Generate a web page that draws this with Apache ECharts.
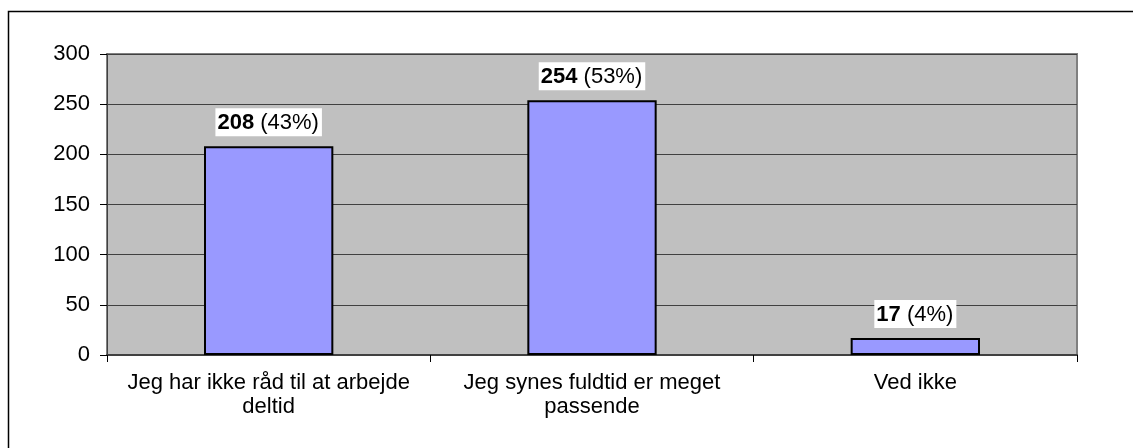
<!DOCTYPE html>
<html>
<head>
<meta charset="utf-8">
<script src="https://cdn.jsdelivr.net/npm/echarts@6/dist/echarts.min.js"></script>
<style>
  html, body { margin: 0; padding: 0; background: #fff; }
  #chart { width: 1133px; height: 448px; }
</style>
</head>
<body>
<div id="chart"></div>
<script>
const categories = ['Jeg har ikke råd til at arbejde\ndeltid', 'Jeg synes fuldtid er meget\npassende', 'Ved ikke']
const counts = [208, 254, 17]
const percents = ['43%', '53%', '4%']
const yTicks = [0, 50, 100, 150, 200, 250, 300]

const chart = echarts.init(document.getElementById('chart'))

const font = 'Arial, "Liberation Sans", sans-serif'

const option = {
  animation: false,
  textStyle: { fontFamily: font },
  graphic: [
    {
      type: 'rect',
      shape: { x: 8.5, y: 11.5, width: 1200, height: 500 },
      style: { fill: 'none', stroke: '#000', lineWidth: 1.5 },
      z: -1
    }
  ],
  grid: {
    left: 107,
    right: 56,
    top: 54,
    bottom: 93,
    show: true,
    backgroundColor: '#c0c0c0',
    borderColor: '#808080',
    borderWidth: 2
  },
  xAxis: {
    type: 'category',
    data: categories,
    axisLine: { lineStyle: { color: '#404040', width: 2 } },
    axisTick: { show: true, alignWithLabel: false, length: 7, lineStyle: { color: '#000' } },
    axisLabel: {
      color: '#000',
      fontSize: 22,
      fontFamily: font,
      lineHeight: 24,
      margin: 16,
      interval: 0
    }
  },
  yAxis: {
    type: 'value',
    min: yTicks[0],
    max: yTicks[yTicks.length - 1],
    interval: 50,
    axisLine: { show: true, lineStyle: { color: '#404040', width: 1 } },
    axisTick: { show: true, length: 7, lineStyle: { color: '#000' } },
    axisLabel: { color: '#000', fontSize: 22, fontFamily: font, margin: 17 },
    splitLine: { lineStyle: { color: '#404040', width: 1 } }
  },
  series: [
    {
      type: 'bar',
      data: counts,
      barWidth: '40%',
      itemStyle: { color: '#9999ff', borderColor: '#000', borderWidth: 2 },
      label: {
        show: true,
        position: 'top',
        distance: 10,
        backgroundColor: '#fff',
        padding: [4, 3, 2, 2],
        fontSize: 22,
        fontFamily: font,
        formatter: (p) => `{b|${counts[p.dataIndex]}}{n| (${percents[p.dataIndex]})}`,
        rich: {
          b: { fontWeight: 'bold', fontSize: 22, color: '#000', fontFamily: font },
          n: { fontSize: 22, color: '#000', fontFamily: font }
        }
      }
    }
  ]
}

chart.setOption(option)
</script>
</body>
</html>
